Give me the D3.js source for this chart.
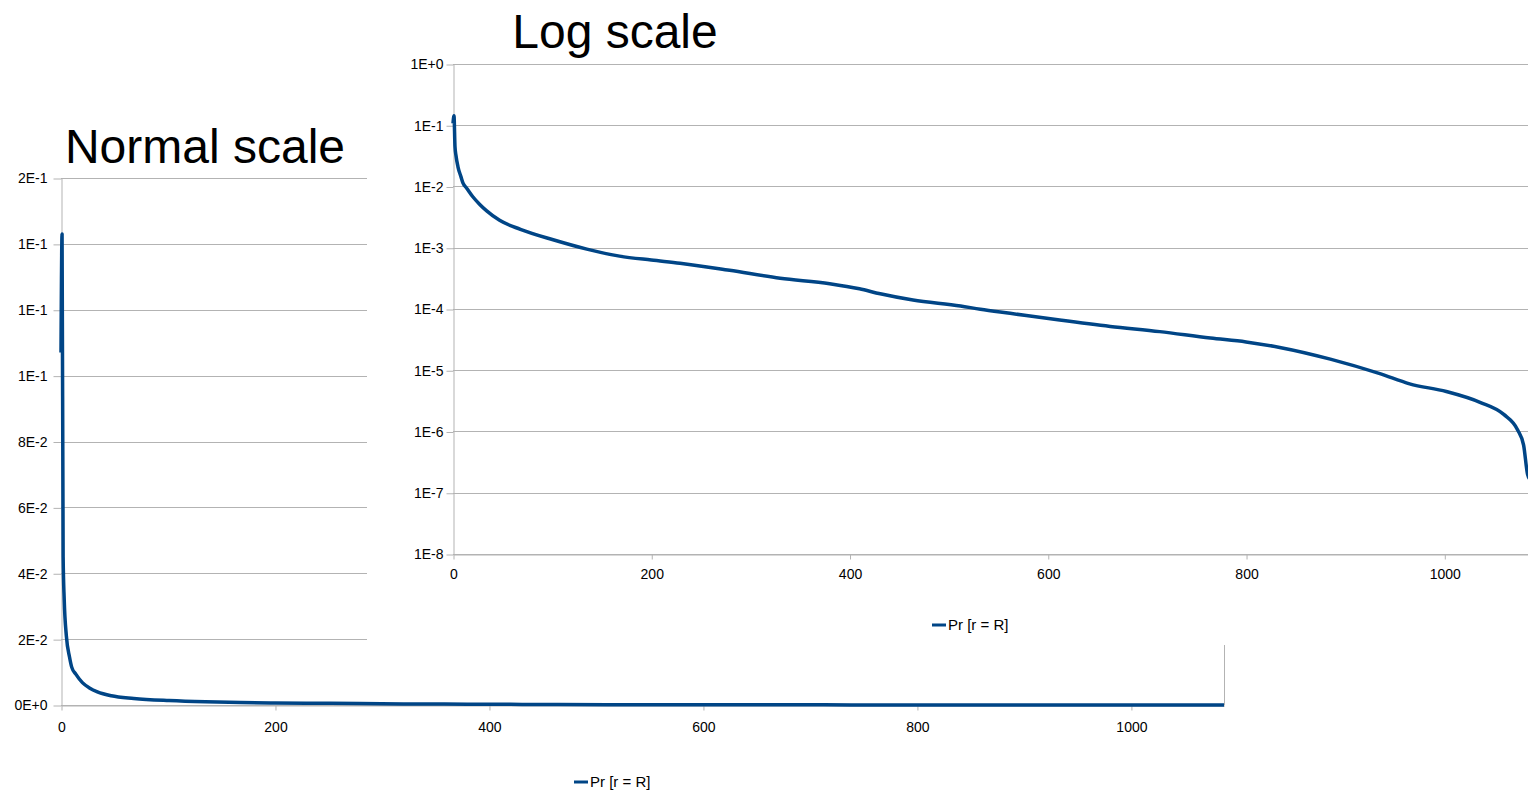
<!DOCTYPE html>
<html>
<head>
<meta charset="utf-8">
<script src="https://cdn.jsdelivr.net/npm/d3@7"></script>
<style>
body { margin: 0; background: #fff; }
text { font-family: "Liberation Sans", Arial, sans-serif; fill: #000; }
</style>
</head>
<body>
<div id="vis"></div>
<script>
// rank r and Pr [r = R]
var rank = [0, 1, 2, 3, 5, 8, 10, 14, 20, 27, 34, 47, 68, 101, 135, 168, 200, 229, 279, 330, 380,
    410, 431, 464, 512, 532, 562, 612, 663, 713, 764, 800, 834, 885, 935, 965, 1002, 1036,
    1060, 1074, 1080, 1084, 1087];
var prob = [0.107, 0.143, 0.045, 0.032, 0.021, 0.0145, 0.0115, 0.0093, 0.0068, 0.0051, 0.0040,
    0.0028, 0.0020, 0.00135, 0.00095, 0.00073, 0.00063, 0.00056, 0.000428, 0.000318, 0.000259,
    0.000214, 0.000177, 0.000140, 0.000112, 0.000099, 0.000085, 0.000066, 0.000052, 0.0000427,
    0.0000335, 0.0000290, 0.0000236, 0.0000152, 0.0000088, 0.0000060, 0.0000045,
    0.0000030, 0.0000019, 0.00000106, 0.0000006, 0.0000002, 0.00000016];

var series_name = "Pr [r = R]";
var x_max = 1087;
var x_ticks = [0, 200, 400, 600, 800, 1000];

var normal_ticks = [0, 0.02, 0.04, 0.06, 0.08, 0.10, 0.12, 0.14, 0.16];
var normal_labels = ["0E+0", "2E-2", "4E-2", "6E-2", "8E-2", "1E-1", "1E-1", "1E-1", "2E-1"];

var log_ticks = [1e-8, 1e-7, 1e-6, 1e-5, 1e-4, 1e-3, 1e-2, 1e-1, 1];
var log_labels = ["1E-8", "1E-7", "1E-6", "1E-5", "1E-4", "1E-3", "1E-2", "1E-1", "1E+0"];

var line_color = "#004586";
var grid_color = "#b3b3b3";

var points = rank.map(function(r, i) {
    return {r: r, p: prob[i]};
});

var svg = d3.select('#vis')
    .append('svg')
    .attr('width', 1528)
    .attr('height', 792);

function draw_chart(c) {
    var g = svg.append('g');

    if (c.bg) {
        g.append('rect')
            .attr('x', c.bg[0]).attr('y', c.bg[1])
            .attr('width', c.bg[2]).attr('height', c.bg[3])
            .attr('fill', '#fff');
    }

    var x_scale = d3.scaleLinear()
        .domain([0, x_max])
        .range([c.left, c.right]);

    var y_scale = c.y_scale
        .range([c.bottom, c.top]);

    // horizontal gridlines
    g.selectAll('.grid')
        .data(c.ticks)
        .enter()
        .append('line')
        .attr('x1', c.left)
        .attr('x2', c.right)
        .attr('y1', function(d) { return Math.round(y_scale(d)) + 0.5; })
        .attr('y2', function(d) { return Math.round(y_scale(d)) + 0.5; })
        .attr('stroke', grid_color);

    // right border of the plot
    g.append('line')
        .attr('x1', c.right + 0.5).attr('x2', c.right + 0.5)
        .attr('y1', c.top).attr('y2', c.bottom)
        .attr('stroke', grid_color);

    var y_axis = d3.axisLeft(y_scale)
        .tickValues(c.ticks)
        .tickFormat(function(d, i) { return c.labels[i]; })
        .tickSize(c.y_tick)
        .tickSizeOuter(0)
        .tickPadding(c.y_pad);

    var x_axis = d3.axisBottom(x_scale)
        .tickValues(x_ticks)
        .tickFormat(d3.format('d'))
        .tickSize(5)
        .tickSizeOuter(0)
        .tickPadding(c.x_pad);

    var ya = g.append('g')
        .attr('transform', 'translate(' + (c.left + 0.5) + ',0.5)')
        .call(y_axis);

    var xa = g.append('g')
        .attr('transform', 'translate(0.5,' + (c.bottom + 0.5) + ')')
        .call(x_axis);

    [ya, xa].forEach(function(a) {
        a.select('.domain').attr('stroke', grid_color);
        a.selectAll('.tick line').attr('stroke', grid_color);
        a.selectAll('.tick text')
            .style('font-size', '14px')
            .style('font-family', '"Liberation Sans", Arial, sans-serif')
            .attr('fill', '#000');
    });

    var line = d3.line()
        .curve(d3.curveMonotoneX)
        .x(function(d) { return x_scale(d.r); })
        .y(function(d) { return y_scale(d.p); });

    g.append('path')
        .datum(points)
        .attr('d', line)
        .attr('fill', 'none')
        .attr('stroke', line_color)
        .attr('stroke-width', 3.5)
        .attr('stroke-linejoin', 'round');

    // title
    g.append('text')
        .attr('x', c.title_x)
        .attr('y', c.title_y)
        .style('text-anchor', 'middle')
        .style('font-size', '48px')
        .text(c.title);

    // legend
    g.append('line')
        .attr('x1', c.legend_x).attr('x2', c.legend_x + 14)
        .attr('y1', c.legend_y).attr('y2', c.legend_y)
        .attr('stroke', line_color)
        .attr('stroke-width', 3);

    g.append('text')
        .attr('x', c.legend_x + 16)
        .attr('y', c.legend_y)
        .attr('dy', '0.35em')
        .style('font-size', '15px')
        .text(series_name);
}

draw_chart({
    title: "Normal scale", title_x: 205, title_y: 163,
    left: 61, right: 1224, top: 178, bottom: 705,
    y_scale: d3.scaleLinear().domain([0, 0.16]),
    ticks: normal_ticks, labels: normal_labels,
    y_tick: 8, y_pad: 6, x_pad: 12,
    legend_x: 574, legend_y: 782
});

draw_chart({
    title: "Log scale", title_x: 615, title_y: 48,
    bg: [367, 0, 1161, 645],
    left: 453, right: 453 + x_max * 0.9913, top: 64, bottom: 554,
    y_scale: d3.scaleLog().domain([1e-8, 1]),
    ticks: log_ticks, labels: log_labels,
    y_tick: 7, y_pad: 3, x_pad: 10,
    legend_x: 932, legend_y: 625
});
</script>
</body>
</html>
